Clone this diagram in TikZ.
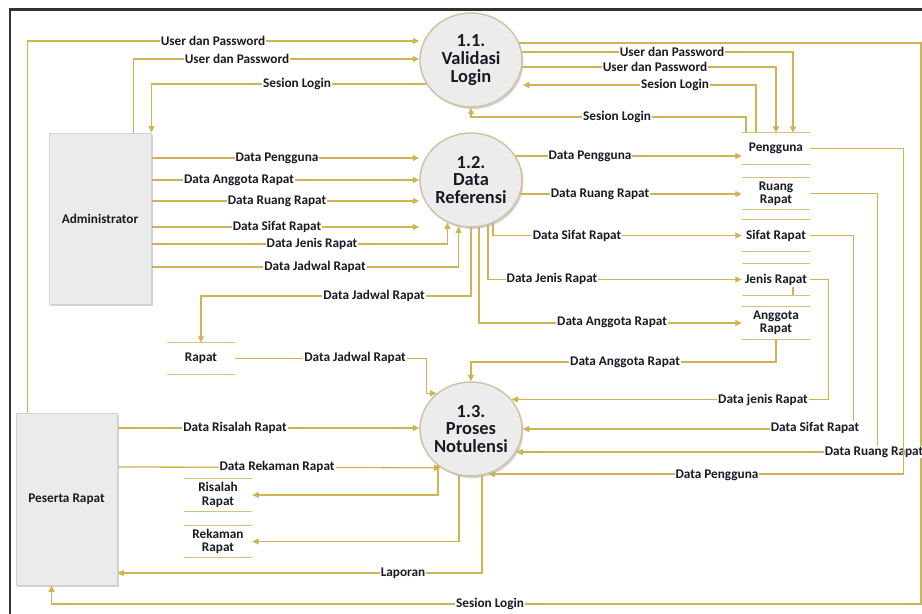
\documentclass[tikz,border=0pt]{standalone}
\usepackage{fontspec}
\setmainfont{Carlito}
\usetikzlibrary{arrows.meta,shapes.geometric,shadows}
\pgfdeclarelayer{bg}
\pgfsetlayers{bg,main}
\definecolor{gold}{HTML}{D3B252}
\definecolor{storegold}{HTML}{D8C07A}
\definecolor{txt}{HTML}{1A1A24}
\definecolor{procfill}{HTML}{ECECEC}
\definecolor{procline}{HTML}{CEC5A6}
\definecolor{entfill}{HTML}{EBEBEB}
\definecolor{entline}{HTML}{D2D2D2}
\begin{document}
\begin{tikzpicture}[x=1bp,y=-1bp,
  proc/.style={ellipse, minimum width=102bp, minimum height=94bp, inner sep=0,
    fill=procfill, draw=procline, line width=1.5bp,
    drop shadow={shadow xshift=1.5bp, shadow yshift=-2bp, fill=black!35, opacity=.5}},
  proctext/.style={align=center, inner sep=0, text=txt,
    font=\fontsize{18.5}{18}\selectfont\bfseries},
  ent/.style={rectangle, fill=entfill, draw=entline, line width=0.8bp, inner sep=0,
    text=txt, font=\fontsize{13.3}{14}\selectfont\bfseries,
    drop shadow={shadow xshift=1.5bp, shadow yshift=-2bp, fill=black!35, opacity=.5}},
  storeline/.style={draw=storegold, line width=1.3bp},
  store/.style={rectangle, minimum width=68bp, minimum height=31bp, inner sep=0,
    align=center, text=txt, font=\fontsize{13.3}{13.5}\selectfont\bfseries},
  flow/.style={draw=gold, line width=1.3bp, -{Triangle[length=6.5bp,width=6bp]}},
  link/.style={draw=gold, line width=1.3bp},
  lbl/.style={fill=white, inner sep=1bp, text=txt, font=\fontsize{13.3}{13}\selectfont\bfseries},
]
\useasboundingbox (0,0) rectangle (922,614);
\begin{pgfonlayer}{bg}
\fill[white] (0,0) rectangle (922,614);
\end{pgfonlayer}
\draw[line width=2.8bp, black!80] (10,640) -- (10,9.5) -- (940,9.5);

% processes
\node[proc] (p11) at (471,60) {};
\node[proctext] (t11) at (p11.center) {1.1.\\Validasi\\Login};
\node[proc] (p12) at (471,180) {};
\node[proctext] (t12) at (p12.center) {1.2.\\Data\\Referensi};
\node[proc] (p13) at (471,429) {};
\node[proctext] (t13) at (p13.center) {1.3.\\Proses\\Notulensi};

% entities
\node[ent, minimum width=102bp, minimum height=171bp] (admin) at (100,218.5) {Administrator};
\node[ent, minimum width=101bp, minimum height=172bp] (peserta) at (66.5,499) {Peserta Rapat};

% data stores
\node[store] (pg) at (776,148.5) {Pengguna};
\node[store] (rr) at (776,193.5) {Ruang\\Rapat};
\node[store] (sr) at (776,235.5) {Sifat Rapat};
\node[store] (jr) at (776,279.5) {Jenis Rapat};
\node[store, minimum height=32bp] (ar) at (776,323) {Anggota\\Rapat};
\node[store] (rapat) at (201,358.5) {Rapat};
\node[store, minimum height=32bp] (ris) at (218,495) {Risalah\\Rapat};
\node[store] (rek) at (218,541.5) {Rekaman\\Rapat};
\foreach \s in {pg,rr,sr,jr,ar,rapat,ris,rek}{
  \draw[storeline] (\s.north west) -- (\s.north east) (\s.south west) -- (\s.south east);
}

\begin{pgfonlayer}{bg}
% 1.1 Validasi Login
\draw[flow] ([xshift=12bp]peserta.north west) |- (p11.west |- 0,41) node[lbl] (l1) at (213,41) {User dan Password};
\draw[flow] ([xshift=-18bp]admin.north east) |- (p11.west |- 0,59) node[lbl] (l2) at (237,59) {User dan Password};
\draw[flow] (p11.center |- 0,84) -| (admin.north east) node[lbl] (l3) at (297,84) {Sesion Login};
\draw[flow] (p11.center |- 0,43) -| (921,604) -| ([xshift=36bp]peserta.south west) node[lbl] (l4) at (490,604) {Sesion Login};
\draw[flow] (p11.center |- 0,52) -| ([xshift=17bp]pg.north) node[lbl] (l5) at (672,52) {User dan Password};
\draw[flow] (p11.center |- 0,67) -| (pg.north) node[lbl] (l6) at (655,67) {User dan Password};
\draw[flow] ([xshift=-20bp]pg.north) |- (p11.east |- 0,85) node[lbl] (l7) at (675,85) {Sesion Login};
\draw[flow] ([xshift=-30bp]pg.north) |- (p11.center |- 0,117) -- (p11.south) node[lbl] (l8) at (617,117) {Sesion Login};

% 1.2 Data Referensi
\draw[flow] (admin.east |- 0,158) -- (p12.west |- 0,158) node[lbl] (l9) at (277,158) {Data Pengguna};
\draw[flow] (admin.east |- 0,180) -- (p12.west |- 0,180) node[lbl] (l10) at (239,180) {Data Anggota Rapat};
\draw[flow] (admin.east |- 0,201) -- (p12.west |- 0,201) node[lbl] (l11) at (277,201) {Data Ruang Rapat};
\draw[flow] (admin.east |- 0,227) -- (p12.west |- 0,227) node[lbl] (l12) at (277,227) {Data Sifat Rapat};
\draw[flow] (admin.east |- 0,244) -| (p12.241) node[lbl] (l13) at (312,244) {Data Jenis Rapat};
\draw[flow] (admin.east |- 0,267) -| (p12.255) node[lbl] (l14) at (315,267) {Data Jadwal Rapat};
\draw[flow] (p12.center) |- (rapat.north |- 0,296) -- (rapat.north) node[lbl] (l15) at (374,296) {Data Jadwal Rapat};
\draw[flow] (p12.center |- 0,156) -- (pg.west |- 0,156) node[lbl] (l16) at (590,156) {Data Pengguna};
\draw[flow] (p12.center |- 0,194) -- (rr.west |- 0,194) node[lbl] (l17) at (600,194) {Data Ruang Rapat};
\draw[flow] ([xshift=22bp]p12.center) |- (sr.west) node[lbl] (l18) at (577,236) {Data Sifat Rapat};
\draw[flow] ([xshift=17bp]p12.center) |- (jr.west) node[lbl] (l19) at (552,279) {Data Jenis Rapat};
\draw[flow] ([xshift=8bp]p12.center) |- (ar.west) node[lbl] (l20) at (612,322) {Data Anggota Rapat};

% 1.3 Proses Notulensi
\draw[flow] (rapat.east) -| ([xshift=-10bp]p13.134) -- (p13.134) node[lbl] (l21) at (355,358) {Data Jadwal Rapat};
\draw[flow] (ar.south) |- (p13.center |- 0,362) -- (p13.north) node[lbl] (l22) at (625,362) {Data Anggota Rapat};
\draw[flow] (jr.east) -- ([xshift=18bp]jr.east) |- (p13.36) node[lbl] (l23) at (763,400) {Data jenis Rapat};
\draw[flow] (sr.east) -- ([xshift=43bp]sr.east) |- (p13.east) node[lbl] (l24) at (815,428) {Data Sifat Rapat};
\draw[flow] (rr.east) -- ([xshift=67bp]rr.east) |- (p13.333) node[lbl] (l25) at (874,452) {Data Ruang Rapat};
\draw[flow] (pg.east) -- ([xshift=93bp]pg.east) |- (p13.291) node[lbl] (l26) at (717,475) {Data Pengguna};
\draw[flow] (peserta.east |- 0,428) -- (p13.west |- 0,428) node[lbl] (l27) at (235,428) {Data Risalah Rapat};
\draw[flow] (peserta.east |- 0,467) -- (p13.232) node[lbl] (l28) at (277,467) {Data Rekaman Rapat};
\draw[flow] ([xshift=-33bp]p13.center) |- (ris.east);
\draw[flow] ([xshift=-12bp]p13.center) |- (rek.east);
\draw[flow] ([xshift=11bp]p13.center) |- (peserta.east |- 0,573) node[lbl] (l31) at (403,573) {Laporan};
\draw[link] ([xshift=17bp]jr.south) -- ++(0,-8);
\end{pgfonlayer}
\end{tikzpicture}
\end{document}
